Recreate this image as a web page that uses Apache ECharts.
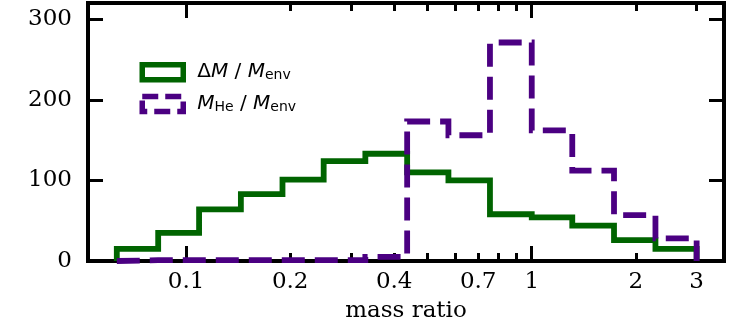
<!DOCTYPE html>
<html><head><meta charset="utf-8">
<script src="https://cdn.jsdelivr.net/npm/echarts@6/dist/echarts.min.js"></script>
<style>html,body{margin:0;padding:0;background:#fff}#c{width:729px;height:318px}</style>
</head><body><div id="c"></div>
<script>
// ---- data ----
const binEdges = [0.063, 0.083, 0.109, 0.144, 0.19, 0.25, 0.33, 0.436, 0.574, 0.757, 1.0, 1.31, 1.73, 2.28, 3.0];
const deltaMCounts = [15, 35, 64, 83, 101, 124, 133, 110, 100, 58, 54, 44, 26, 15];
const heCounts = [1, 1, 1, 1, 1, 1, 5, 173, 156, 271, 162, 112, 57, 28];
const seriesNames = ['ΔM / Menv', 'MHe / Menv'];
const xLabelValues = [0.1, 0.2, 0.4, 0.7, 1, 2, 3];
const xMajorTicks = [0.1, 1];
const xMinorTicks = [0.2, 0.3, 0.4, 0.5, 0.6, 0.7, 0.8, 0.9, 2, 3];
const yTickValues = [0, 100, 200, 300];
const xName = 'mass ratio';

function stepPath(edges, counts) {
  const pts = [[edges[0], 0]];
  for (let i = 0; i < counts.length; i++) {
    pts.push([edges[i], counts[i]]);
    pts.push([edges[i + 1], counts[i]]);
  }
  pts.push([edges[edges.length - 1], 0]);
  return pts;
}

const serif = 'DejaVu Serif';
const spine = { show: true, lineStyle: { color: '#000', width: 4, cap: 'square' } };
const XMIN = 0.052, XMAX = 3.6;

function xAxisDef(pos, ticks, len, labels, line) {
  return {
    type: 'log', logBase: 10, min: XMIN, max: XMAX, position: pos,
    axisLine: line ? spine : { show: false },
    splitLine: { show: false }, minorTick: { show: false },
    axisTick: { show: true, inside: true, length: len, customValues: ticks, lineStyle: { color: '#000', width: 3 } },
    axisLabel: labels ? { show: true, customValues: xLabelValues, margin: 10, fontFamily: serif, fontSize: 23, color: '#000', formatter: v => String(v) } : { show: false },
    name: labels ? xName : '', nameLocation: 'middle', nameGap: 39,
    nameTextStyle: { fontFamily: serif, fontSize: 23, color: '#000' }
  };
}
function yAxisDef(pos, labels) {
  return {
    type: 'value', min: 0, max: 320, position: pos,
    axisLine: spine, splitLine: { show: false },
    axisTick: { show: true, inside: true, length: 15, customValues: yTickValues, lineStyle: { color: '#000', width: 3 } },
    axisLabel: labels ? { show: true, customValues: yTickValues, margin: 16, fontFamily: serif, fontSize: 23, color: '#000' } : { show: false }
  };
}

const chart = echarts.init(document.getElementById('c'), null, { renderer: 'canvas' });
chart.setOption({
  animation: false,
  backgroundColor: '#fff',
  grid: { left: 88, right: 5, top: 3, bottom: 57, containLabel: false, outerBoundsMode: 'none' },
  xAxis: [
    xAxisDef('bottom', xMajorTicks, 15, true, true),
    xAxisDef('bottom', xMinorTicks, 8, false, false),
    xAxisDef('top', xMajorTicks, 15, false, true),
    xAxisDef('top', xMinorTicks, 8, false, false)
  ],
  yAxis: [yAxisDef('left', true), yAxisDef('right', false)],
  legend: {
    orient: 'vertical', left: 139.5, top: 62, padding: 0, itemGap: 11,
    itemWidth: 41, itemHeight: 15,
    data: [
      { name: seriesNames[0], icon: 'rect', itemStyle: { color: 'rgba(0,0,0,0)', borderColor: '#006400', borderWidth: 5.5 } },
      { name: seriesNames[1], icon: 'rect', itemStyle: { color: 'rgba(0,0,0,0)', borderColor: '#4b0082', borderWidth: 5.5, borderType: [16, 7] } }
    ],
    formatter: function (name) {
      return name === seriesNames[0]
        ? '{pad| }Δ{it|M} / {it|M}{sub|env}'
        : '{pad| }{it|M}{sub|He} / {it|M}{sub|env}';
    },
    textStyle: {
      fontFamily: 'DejaVu Sans', fontSize: 20, color: '#000',
      rich: {
        pad: { width: 9, fontSize: 20 },
        it: { fontFamily: 'DejaVu Sans', fontStyle: 'italic', fontSize: 20, color: '#000' },
        sub: { fontFamily: 'DejaVu Sans', fontSize: 14, color: '#000', verticalAlign: 'bottom', padding: [7, 0, 0, 0] }
      }
    }
  },
  series: [
    { name: seriesNames[0], type: 'line', xAxisIndex: 0, yAxisIndex: 0, data: stepPath(binEdges, deltaMCounts),
      symbol: 'none', showSymbol: false, lineStyle: { color: '#006400', width: 5.8, join: 'miter', cap: 'butt' }, itemStyle: { color: '#006400' }, z: 2 },
    { name: seriesNames[1], type: 'line', xAxisIndex: 0, yAxisIndex: 0, data: stepPath(binEdges, heCounts),
      symbol: 'none', showSymbol: false, lineStyle: { color: '#4b0082', width: 5.8, type: [23, 10], join: 'miter', cap: 'butt' }, itemStyle: { color: '#4b0082' }, z: 3 }
  ]
});
</script>
</body></html>
